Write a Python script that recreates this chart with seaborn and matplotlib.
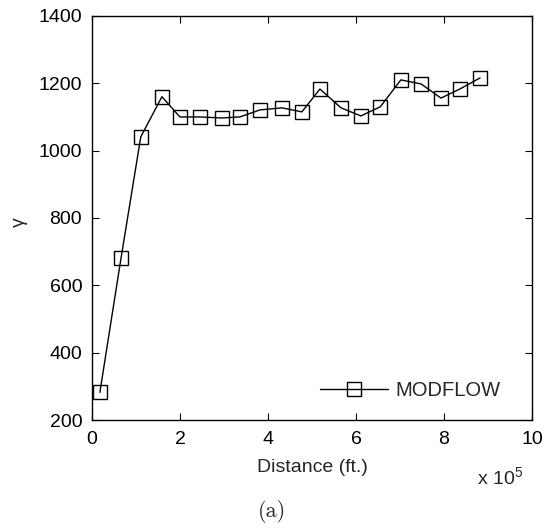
import numpy as np
import pandas as pd
import matplotlib
matplotlib.use('Agg')
import matplotlib.pyplot as plt
import seaborn as sns

# values (distance in units of 1e5 ft)
distance = [0.18, 0.66, 1.11, 1.59, 2.0, 2.45, 2.95, 3.36, 3.82, 4.32,
            4.77, 5.18, 5.66, 6.11, 6.55, 7.02, 7.48, 7.93, 8.36, 8.82]
gamma = [282, 680, 1041, 1160, 1100, 1100, 1097, 1100, 1121, 1127,
         1115, 1183, 1127, 1103, 1130, 1210, 1198, 1156, 1183, 1216]
series_name = 'MODFLOW'
xticks = [0, 2, 4, 6, 8, 10]
yticks = [200, 400, 600, 800, 1000, 1200, 1400]

df = pd.DataFrame({'Distance': distance, 'gamma': gamma, 'Model': series_name})

sns.set_style('ticks')
plt.rcParams['font.family'] = ['Liberation Sans', 'DejaVu Sans']
plt.rcParams['mathtext.fontset'] = 'custom'
plt.rcParams['mathtext.rm'] = 'Liberation Sans'
plt.rcParams['xtick.direction'] = 'in'
plt.rcParams['ytick.direction'] = 'in'

fig = plt.figure(figsize=(5.44, 5.31), dpi=100)
ax = fig.add_axes([0.169, 0.209, 0.809, 0.761])

sns.lineplot(data=df, x='Distance', y='gamma', hue='Model', palette=['black'],
             marker='s', markersize=10, markerfacecolor='none', markeredgecolor='black',
             markeredgewidth=1.0, linewidth=1.0, ax=ax)

ax.set_xlim(0, 10)
ax.set_ylim(200, 1400)
ax.set_xticks(xticks)
ax.set_yticks(yticks)
ax.tick_params(labelsize=14, length=5, width=0.8, top=True, right=True, colors='black')
ax.tick_params(axis='y', pad=7)
ax.tick_params(axis='x', pad=8)
for s in ax.spines.values():
    s.set_visible(True)
    s.set_linewidth(1.0)
    s.set_color('black')

ax.set_xlabel('Distance (ft.)', fontsize=14, labelpad=8)
ax.set_ylabel('γ', fontsize=14)
ax.yaxis.set_label_coords(-0.145, 0.49)

fig.text(0.962, 0.079, r'x 10$^{5}$', fontsize=14, ha='right', va='bottom')
fig.text(0.5, 0.036, '(a)', fontsize=16, family=['cmr10', 'DejaVu Serif'], ha='center', va='center')

leg = ax.legend(loc='center left', bbox_to_anchor=(0.518, 0.074), frameon=False, fontsize=14.5,
                handlelength=3.4, handletextpad=0.36, borderpad=0, borderaxespad=0)

fig.savefig('out.png', dpi=100)
